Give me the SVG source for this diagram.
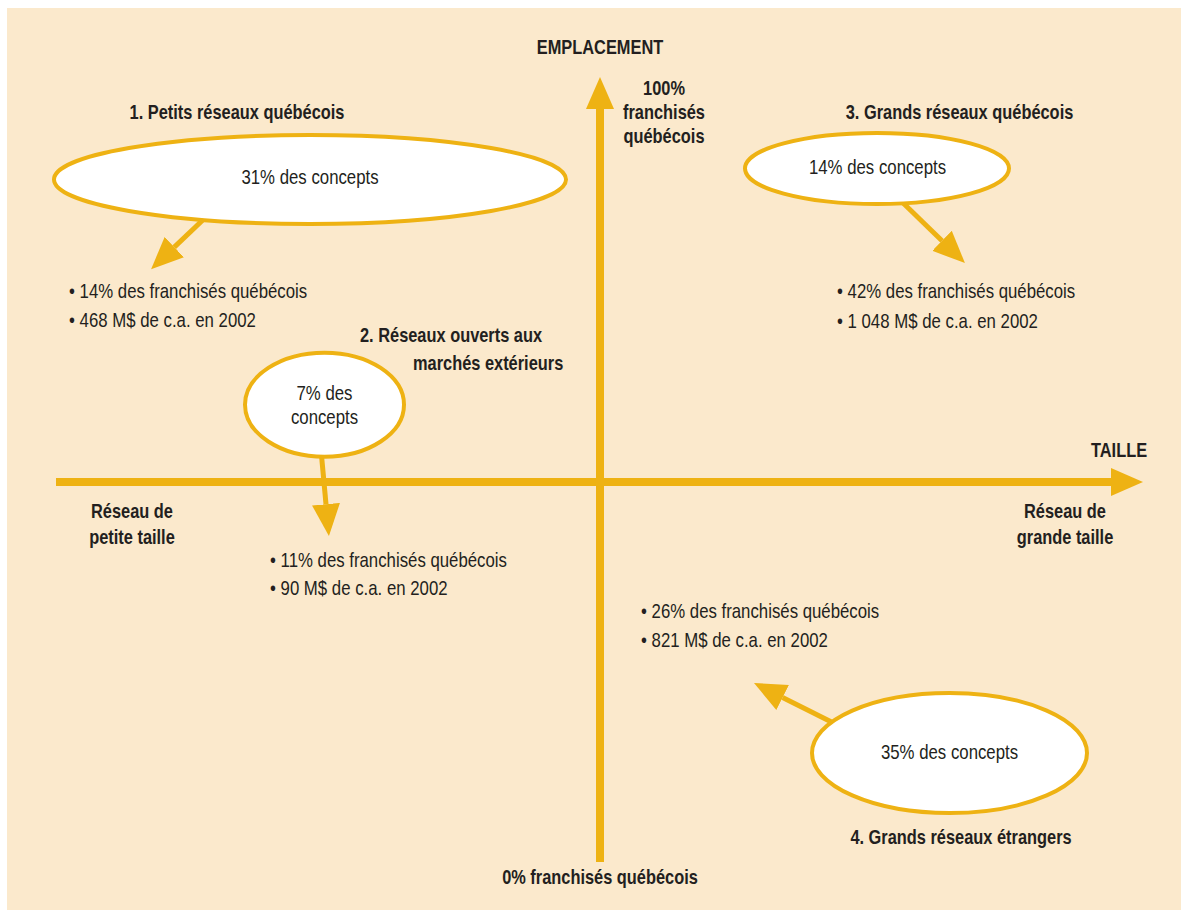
<svg xmlns="http://www.w3.org/2000/svg" width="1181" height="914" viewBox="0 0 1181 914">
<style>
text{font-family:"Liberation Sans",Arial,sans-serif;font-size:20px;fill:#231F20}
.b{font-weight:bold}
.m{text-anchor:middle}
.ell{fill:#FFFFFF;stroke:#EEB213;stroke-width:4}
.ax{stroke:#EEB213;stroke-width:8;fill:none}
.ar{stroke:#EEB213;stroke-width:5;fill:none}
</style>
<defs>
<marker id="head" markerUnits="userSpaceOnUse" markerWidth="34" markerHeight="30" viewBox="0 -15 34 30" refX="0" refY="0" orient="auto">
<path d="M0,-14 L32,0 L0,14 Z" fill="#EEB213"/>
</marker>
</defs>
<rect x="0" y="0" width="1181" height="914" fill="#FFFFFF"/>
<rect x="7" y="8" width="1174" height="902" fill="#FBE9CC"/>
<g id="connectors">
<line class="ax" x1="600" y1="862" x2="600" y2="109" marker-end="url(#head)"/>
<line class="ax" x1="56" y1="482" x2="1111" y2="482" marker-end="url(#head)"/>
<line class="ar" x1="206" y1="217" x2="174.3" y2="247.1" marker-end="url(#head)"/>
<line class="ar" x1="900" y1="200" x2="942" y2="240.8" marker-end="url(#head)"/>
<line class="ar" x1="321" y1="450" x2="326" y2="504.2" marker-end="url(#head)"/>
<line class="ar" x1="837" y1="724.7" x2="782.6" y2="697.4" marker-end="url(#head)"/>
</g>
<g id="axis-labels">
<text class="b m" transform="translate(600,54) scale(0.82,1)">EMPLACEMENT</text>
<text class="b m" transform="translate(664,95) scale(0.82,1)">100%</text>
<text class="b m" transform="translate(664,119) scale(0.82,1)">franchisés</text>
<text class="b m" transform="translate(664,143) scale(0.82,1)">québécois</text>
<text class="b" transform="translate(1091,457) scale(0.82,1)">TAILLE</text>
<text class="b m" transform="translate(132,518) scale(0.82,1)">Réseau de</text>
<text class="b m" transform="translate(132,544) scale(0.82,1)">petite taille</text>
<text class="b m" transform="translate(1065,518) scale(0.82,1)">Réseau de</text>
<text class="b m" transform="translate(1065,544) scale(0.82,1)">grande taille</text>
<text class="b m" transform="translate(600,884) scale(0.82,1)">0% franchisés québécois</text>
</g>
<g id="node1">
<text class="b m" transform="translate(237,119) scale(0.82,1)">1. Petits réseaux québécois</text>
<ellipse class="ell" cx="310" cy="179.5" rx="256" ry="44.5"/>
<text class="m" transform="translate(310,184) scale(0.84,1)">31% des concepts</text>
<text transform="translate(69,298) scale(0.84,1)">• 14% des franchisés québécois</text>
<text transform="translate(69,327) scale(0.84,1)">• 468 M$ de c.a. en 2002</text>
</g>
<g id="node2">
<text class="b" transform="translate(360,342) scale(0.82,1)">2. Réseaux ouverts aux</text>
<text class="b" transform="translate(413,370) scale(0.82,1)">marchés extérieurs</text>
<ellipse class="ell" cx="324.5" cy="404.7" rx="79.5" ry="52"/>
<text class="m" transform="translate(324.5,400) scale(0.84,1)">7% des</text>
<text class="m" transform="translate(324.5,424) scale(0.84,1)">concepts</text>
<text transform="translate(270,567) scale(0.84,1)">• 11% des franchisés québécois</text>
<text transform="translate(270,595) scale(0.84,1)">• 90 M$ de c.a. en 2002</text>
</g>
<g id="node3">
<text class="b m" transform="translate(959.5,119) scale(0.82,1)">3. Grands réseaux québécois</text>
<ellipse class="ell" cx="877" cy="168.5" rx="132" ry="35.5"/>
<text class="m" transform="translate(877.5,174) scale(0.84,1)">14% des concepts</text>
<text transform="translate(837,298) scale(0.84,1)">• 42% des franchisés québécois</text>
<text transform="translate(837,328) scale(0.84,1)">• 1 048 M$ de c.a. en 2002</text>
</g>
<g id="node4">
<text transform="translate(641,618) scale(0.84,1)">• 26% des franchisés québécois</text>
<text transform="translate(641,647) scale(0.84,1)">• 821 M$ de c.a. en 2002</text>
<ellipse class="ell" cx="949.5" cy="753" rx="137.5" ry="60"/>
<text class="m" transform="translate(949.5,759) scale(0.84,1)">35% des concepts</text>
<text class="b m" transform="translate(961,844) scale(0.82,1)">4. Grands réseaux étrangers</text>
</g>
</svg>
